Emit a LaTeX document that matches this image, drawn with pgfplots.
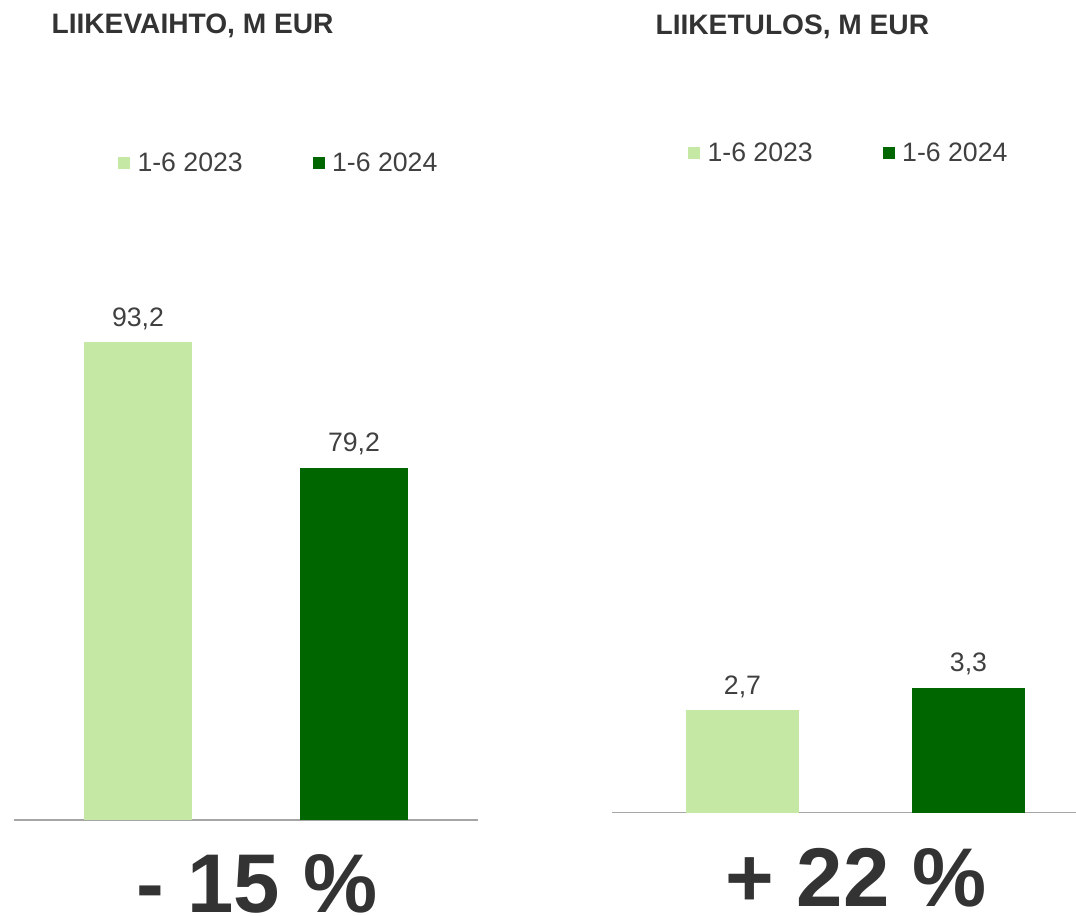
\documentclass[border=0pt]{standalone}
\usepackage{pgfplots}
\pgfplotsset{compat=1.18}
\usepackage{fontspec}
\setmainfont{Liberation Sans}

\definecolor{lightg}{HTML}{C5E8A4}
\definecolor{darkg}{HTML}{006600}
\definecolor{txt}{HTML}{404040}
\definecolor{dark}{HTML}{333333}
\definecolor{baseline}{HTML}{A6A6A6}

% 1 px of the reference = 0.75pt
\pgfplotsset{
  panel/.style={
    scale only axis,
    axis x line*=bottom, axis y line=none,
    axis line style={-, draw=baseline, line width=1pt},
    xtick=\empty, ytick=\empty,
    legend columns=2,
    legend style={draw=none, fill=none, inner sep=0pt,
      font=\fontsize{20}{24}\selectfont, text=txt,
      nodes={inner ysep=2pt, inner xsep=5.5pt},
      /tikz/column 2/.style={column sep=47pt}},
    nodes near coords, point meta=explicit symbolic,
    every node near coord/.append style={font=\fontsize{20}{24}\selectfont,
      text=txt, anchor=base, yshift=12pt},
  },
  lightbar/.style={ybar, bar shift=0pt, fill=lightg, draw=none,
    legend image code/.code={\fill[lightg] (0pt,-4.5pt) rectangle (9pt,4.5pt);}},
  darkbar/.style={ybar, bar shift=0pt, fill=darkg, draw=none,
    legend image code/.code={\fill[darkg] (0pt,-4.5pt) rectangle (9pt,4.5pt);}},
}

\begin{document}
\begin{tikzpicture}
\useasboundingbox (0pt,0pt) rectangle (807pt,-687pt);

% Liikevaihto
\begin{axis}[panel,
  at={(10.5pt,-615pt)}, anchor=south west,
  width=348pt, height=404.3pt,
  xmin=-0.574, xmax=1.574, ymin=40, ymax=100,
  bar width=81pt,
  legend style={at={(axis description cs:0.224,1.219)}, anchor=west},
]
\addplot[lightbar] coordinates {(0,93.2) [93,2]};
\addplot[darkbar] coordinates {(1,79.2) [79,2]};
\legend{1-6 2023, 1-6 2024}
\end{axis}

% Liiketulos
\begin{axis}[panel,
  at={(459pt,-609.4pt)}, anchor=south west,
  width=365.25pt, height=283.5pt,
  xmin=-0.5774, xmax=1.5774, ymin=0, ymax=10,
  bar width=84.75pt,
  legend style={at={(axis description cs:0.156,1.745)}, anchor=west},
]
\addplot[lightbar] coordinates {(0,2.7) [2,7]};
\addplot[darkbar] coordinates {(1,3.3) [3,3]};
\legend{1-6 2023, 1-6 2024}
\end{axis}

% titles
\node[anchor=base west, inner sep=0pt, text=dark, font=\bfseries\fontsize{21.1}{25}\selectfont]
  at (38.5pt,-25.1pt) {LIIKEVAIHTO, M EUR};
\node[anchor=base west, inner sep=0pt, text=dark, font=\bfseries\fontsize{21.1}{25}\selectfont]
  at (491.5pt,-25.9pt) {LIIKETULOS, M EUR};

% change figures
\node[anchor=base, inner sep=0pt, text=dark, font=\bfseries\fontsize{62.5}{66}\selectfont]
  at (192.8pt,-684pt) {- 15 \%};
\node[anchor=base, inner sep=0pt, text=dark, font=\bfseries\fontsize{62.5}{66}\selectfont]
  at (642pt,-679.5pt) {+ 22 \%};
\end{tikzpicture}
\end{document}
